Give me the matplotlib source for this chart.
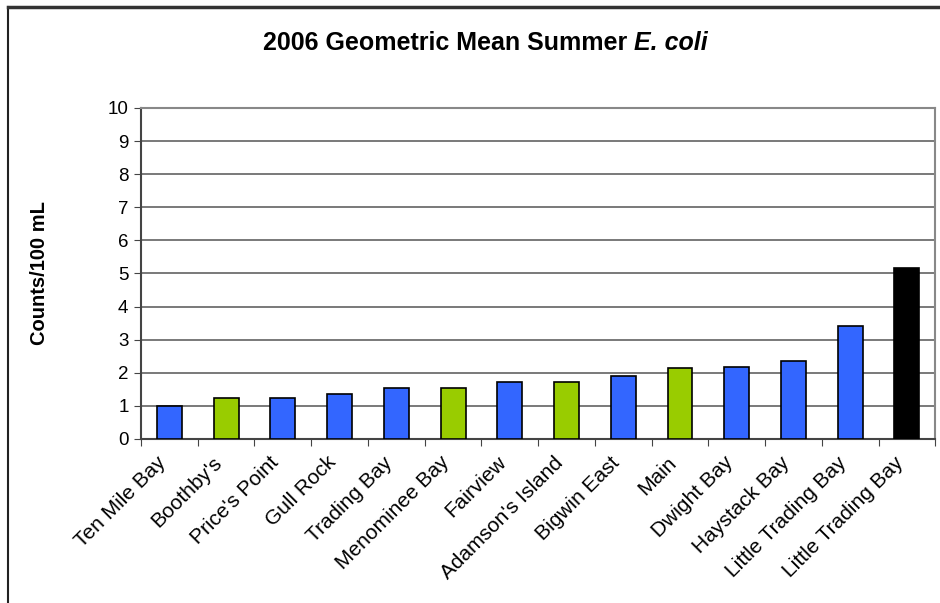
import numpy as np
import matplotlib.pyplot as plt
from matplotlib.lines import Line2D

plt.rcParams['font.family'] = ['Liberation Sans', 'DejaVu Sans']

sites = ["Ten Mile Bay", "Boothby's", "Price's Point", "Gull Rock", "Trading Bay",
         "Menominee Bay", "Fairview", "Adamson's Island", "Bigwin East", "Main",
         "Dwight Bay", "Haystack Bay", "Little Trading Bay", "Little Trading Bay"]
geo_mean = [1.0, 1.25, 1.25, 1.35, 1.55, 1.55, 1.73, 1.72, 1.9, 2.14,
            2.18, 2.37, 3.4, 5.17]
bar_colors = ['#3366FF', '#99CC00', '#3366FF', '#3366FF', '#3366FF', '#99CC00', '#3366FF',
              '#99CC00', '#3366FF', '#99CC00', '#3366FF', '#3366FF', '#3366FF', '#000000']
yticks = list(range(0, 11))

fig = plt.figure(figsize=(9.4, 6.03), dpi=100)
ax = fig.add_axes([0.150, 0.272, 0.845, 0.549])

x = np.arange(len(sites))
ax.bar(x, geo_mean, width=0.44, color=bar_colors, edgecolor='black', linewidth=1.2, zorder=3)

ax.set_xlim(-0.5, len(sites) - 0.5)
ax.set_ylim(0, 10)
ax.set_yticks(yticks)
ax.set_yticklabels([str(t) for t in yticks], fontsize=13.5)
ax.yaxis.grid(True, color='#555555', linewidth=1.1, zorder=0)

# ticks between categories like the spreadsheet chart
ax.set_xticks(np.arange(len(sites) + 1) - 0.5)
ax.set_xticklabels([])
ax.set_xticks(x, minor=True)
ax.set_xticklabels(sites, minor=True, rotation=45, ha='right', va='top', fontsize=15)
ax.tick_params(axis='x', which='minor', length=0, pad=10)
ax.tick_params(axis='x', which='major', length=5, direction='out', color='#444444')
ax.tick_params(axis='y', length=5, direction='out', color='#444444', pad=4)

for side in ['top', 'right']:
    ax.spines[side].set_color('#888888')
    ax.spines[side].set_linewidth(1.5)
for side in ['left', 'bottom']:
    ax.spines[side].set_color('#444444')
    ax.spines[side].set_linewidth(1.5)

ax.set_ylabel('Counts/100 mL', fontsize=14.5, fontweight='bold', labelpad=42)

# title: bold part plus bold-italic organism name, centred as one line
fig.canvas.draw()
renderer = fig.canvas.get_renderer()
t1 = fig.text(0, 0.929, '2006 Geometric Mean Summer ', ha='left', va='center',
              fontsize=18, fontweight='bold')
t2 = fig.text(0, 0.929, 'E. coli', ha='left', va='center',
              fontsize=18, fontweight='bold', fontstyle='italic')
w1 = t1.get_window_extent(renderer).width / fig.bbox.width
w2 = t2.get_window_extent(renderer).width / fig.bbox.width
x0 = 0.516 - (w1 + w2) / 2
t1.set_x(x0)
t2.set_x(x0 + w1)

# outer chart border
fig.add_artist(Line2D([0.0085, 0.0085], [0.0, 0.9885], color='#222222', linewidth=1.5,
                      transform=fig.transFigure))
fig.add_artist(Line2D([0.0085, 1.0], [0.9885, 0.9885], color='#333333', linewidth=2.5,
                      transform=fig.transFigure))

fig.savefig('out.png', dpi=100)
